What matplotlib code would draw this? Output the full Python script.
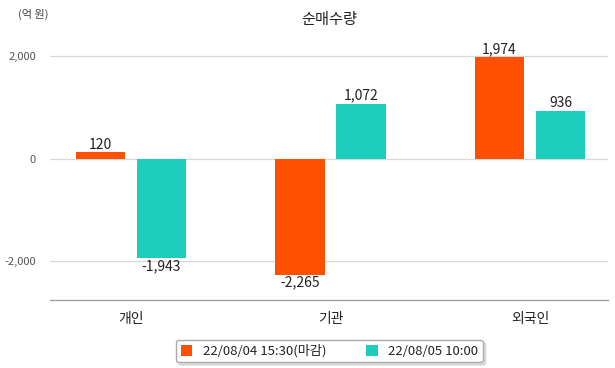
import matplotlib

matplotlib.use("Agg")
import matplotlib.pyplot as plt
import numpy as np

plt.rcParams["font.family"] = ["Noto Sans CJK KR", "DejaVu Sans"]

categories = ["개인", "기관", "외국인"]
series_names = ["22/08/04 15:30(마감)", "22/08/05 10:00"]
closing_values = [120, -2265, 1974]
latest_values = [-1943, 1072, 936]
y_ticks = [-2000, 0, 2000]

colors = ["#FF5000", "#1DCDBC"]

fig = plt.figure(figsize=(6.15, 3.68), dpi=100)
ax = fig.add_axes([50 / 615, 1 - 300 / 368, 558 / 615, 259.4 / 368])

x = np.arange(len(categories))
width = 0.25
offset = 0.153
for vals, dx, color, name in [(closing_values, -offset, colors[0], series_names[0]),
                              (latest_values, offset, colors[1], series_names[1])]:
    bars = ax.bar(x + dx, vals, width, color=color, label=name, zorder=3)
    for b, v in zip(bars, vals):
        cx = b.get_x() + b.get_width() / 2
        if v >= 0:
            ax.text(cx, v + 15, f"{v:,}", ha="center", va="bottom", fontsize=10, color="#222222")
        else:
            ax.text(cx, v - 15, f"{v:,}", ha="center", va="top", fontsize=10, color="#222222")

ax.set_xlim(-0.406, 2.391)
ax.set_ylim(-2760, 2300)
ax.set_yticks(y_ticks)
ax.set_yticklabels([f"{t:,}" for t in y_ticks], fontsize=8, color="#555555")
ax.set_xticks(x)
ax.set_xticklabels(categories, fontsize=10, color="#222222")
ax.tick_params(axis="both", length=0)
ax.tick_params(axis="x", pad=9)
ax.tick_params(axis="y", pad=10)
ax.grid(axis="y", color="#d9d9d9", linewidth=0.9, zorder=0)
for side in ["top", "left", "right"]:
    ax.spines[side].set_visible(False)
ax.spines["bottom"].set_color("#999999")
ax.spines["bottom"].set_linewidth(0.9)

ax.set_title("순매수량", fontsize=11, color="#222222", pad=12)
fig.text(18 / 615, 1 - 14 / 368, "(억 원)", fontsize=8, color="#444444", va="center")

leg = fig.legend(loc="center", bbox_to_anchor=(329.5 / 615, 1 - 351 / 368), ncol=2,
                 fontsize=9.5, frameon=True, shadow={"color": "#c4c4c4"}, fancybox=True,
                 handlelength=0.9, handleheight=0.9, columnspacing=3.0,
                 borderpad=0.35, handletextpad=0.8, edgecolor="#aaaaaa")
for t in leg.get_texts():
    t.set_color("#222222")

fig.savefig("out.png", dpi=100)
